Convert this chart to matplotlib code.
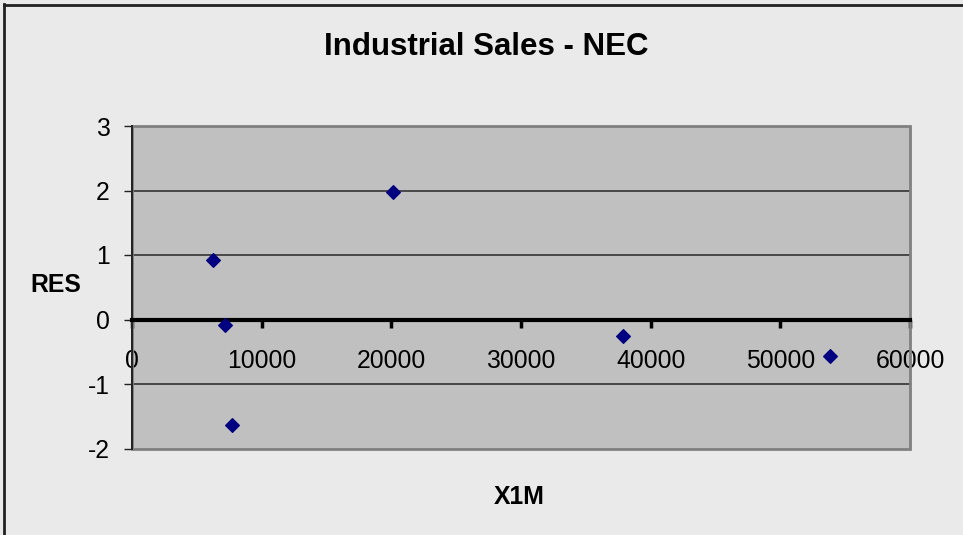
import matplotlib.pyplot as plt
from matplotlib.patches import Rectangle
from matplotlib.lines import Line2D

plt.rcParams['font.family'] = ['Liberation Sans', 'DejaVu Sans']

## data ##
x1m = [6250, 7170, 7690, 20140, 37880, 53820]
res = [0.93, -0.09, -1.64, 1.98, -0.25, -0.57]
x_ticks = [0, 10000, 20000, 30000, 40000, 50000, 60000]
y_ticks = [-2, -1, 0, 1, 2, 3]

fontsize = 17.8

fig = plt.figure(figsize=(9.63, 5.35), dpi=100, facecolor='#eaeaea')
ax = fig.add_axes([132/963, 1 - 448.5/535, (910-132)/963, (448.5-126)/535])
ax.set_facecolor('#c0c0c0')

ax.set_xlim(0, 60000)
ax.set_ylim(-2, 3)

# gridlines
for yv in y_ticks[1:-1]:
    if yv != 0:
        ax.axhline(yv, color='#333333', lw=1.2, zorder=1)

# plot area border
ax.add_patch(Rectangle((0, 0), 1, 1, transform=ax.transAxes, fill=False,
                       edgecolor='#808080', lw=2, zorder=2, clip_on=False))

for s in ['top', 'right']:
    ax.spines[s].set_visible(False)
ax.spines['left'].set_color('#222222')
ax.spines['left'].set_linewidth(1.4)
ax.spines['left'].set_zorder(3)
ax.spines['bottom'].set_position(('data', 0))
ax.spines['bottom'].set_linewidth(3)
ax.spines['bottom'].set_color('black')
ax.spines['bottom'].set_zorder(3)

ax.set_xticks(x_ticks)
ax.set_xticklabels([str(v) for v in x_ticks], fontsize=fontsize)
ax.set_yticks(y_ticks)
ax.set_yticklabels([str(v) for v in y_ticks], fontsize=fontsize)
ax.tick_params(axis='x', direction='out', length=6, width=2.5, pad=15, color='black')
ax.tick_params(axis='y', direction='out', length=6, width=1, pad=10, color='#222222')

ax.scatter(x1m, res, marker='D', s=48, color='#000080', zorder=4, clip_on=False)

# labels
fig.text(486/963, 1 - 47/535, 'Industrial Sales - NEC', ha='center', va='center',
         fontsize=22.5, fontweight='bold')
fig.text(56/963, 1 - 285/535, 'RES', ha='center', va='center', fontsize=fontsize, fontweight='bold')
fig.text(519/963, 1 - 497/535, 'X1M', ha='center', va='center', fontsize=fontsize, fontweight='bold')

# outer border (left and top visible)
fig.add_artist(Line2D([4/963, 4/963], [0, 1 - 4/535], transform=fig.transFigure, color='#222222', lw=2))
fig.add_artist(Line2D([4/963, 1], [1 - 5/535, 1 - 5/535], transform=fig.transFigure, color='#222222', lw=2))

fig.savefig('out.png', dpi=100, facecolor=fig.get_facecolor())
